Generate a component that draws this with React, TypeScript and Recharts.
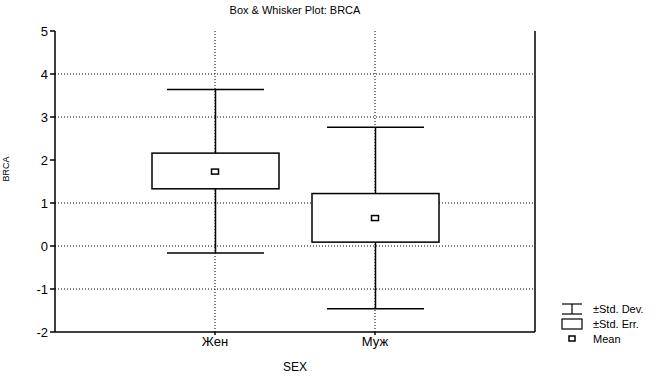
import {
  ComposedChart,
  Bar,
  Scatter,
  XAxis,
  YAxis,
  CartesianGrid,
  ReferenceLine,
} from "recharts";

const categories = ["Жен", "Муж"];
const means = [1.73, 0.65];
const stdErrLow = [1.33, 0.09];
const stdErrHigh = [2.16, 1.22];
const stdDevLow = [-0.16, -1.46];
const stdDevHigh = [3.64, 2.76];
const yTicks = [-2, -1, 0, 1, 2, 3, 4, 5];
const gridValues = [4, 3, 1, 0, -1];

const data = categories.map((sex, i) => ({
  sex,
  mean: means[i],
  se: [stdErrLow[i], stdErrHigh[i]],
  sd: [stdDevLow[i], stdDevHigh[i]],
}));

const FONT = "'Liberation Sans', Arial, sans-serif";

function Whisker(props: any) {
  const { x, y, width, height } = props;
  const cx = x + width / 2;
  return (
    <g stroke="#000" strokeWidth={1.5} fill="none">
      <line x1={cx} y1={y} x2={cx} y2={y + height} />
      <line x1={x} y1={y} x2={x + width} y2={y} />
      <line x1={x} y1={y + height} x2={x + width} y2={y + height} />
    </g>
  );
}

function Box(props: any) {
  const { x, y, width, height } = props;
  return <rect x={x} y={y} width={width} height={height} fill="#fff" stroke="#000" strokeWidth={1.5} />;
}

function MeanMark(props: any) {
  const { cx, cy } = props;
  return <rect x={cx - 3.5} y={cy - 2.5} width={7} height={5} fill="#fff" stroke="#000" strokeWidth={1.5} />;
}

function LegendBox() {
  const row = { display: "flex", alignItems: "center", height: 15 } as const;
  const text = { fontFamily: FONT, fontSize: 11, color: "#000", marginLeft: 10 };
  return (
    <div style={{ position: "absolute", left: 561, top: 301 }}>
      <div style={row}>
        <svg width={22} height={12}>
          <g stroke="#000" strokeWidth={1.2}>
            <line x1={1} y1={1} x2={21} y2={1} />
            <line x1={1} y1={11} x2={21} y2={11} />
            <line x1={11} y1={1} x2={11} y2={11} />
          </g>
        </svg>
        <span style={text}>±Std. Dev.</span>
      </div>
      <div style={row}>
        <svg width={22} height={12}>
          <rect x={1} y={1} width={20} height={10} fill="#fff" stroke="#000" strokeWidth={1.2} />
        </svg>
        <span style={text}>±Std. Err.</span>
      </div>
      <div style={row}>
        <svg width={22} height={12}>
          <rect x={8} y={3} width={6} height={5} fill="#fff" stroke="#000" strokeWidth={1.5} />
        </svg>
        <span style={text}>Mean</span>
      </div>
    </div>
  );
}

export default function App() {
  const pad = { left: 80, right: 80 };
  return (
    <div style={{ position: "absolute", left: 0, top: 0, width: 666, height: 377, background: "#fff" }}>
      <div
        style={{
          position: "absolute",
          left: 55,
          width: 480,
          top: 4,
          textAlign: "center",
          fontFamily: FONT,
          fontSize: 11,
          color: "#000",
        }}
      >
        Box &amp; Whisker Plot: BRCA
      </div>
      <ComposedChart
        width={666}
        height={377}
        data={data}
        margin={{ top: 31, right: 130, bottom: 0, left: 0 }}
      >
        <CartesianGrid
          stroke="#000"
          strokeDasharray="1 2"
          vertical={false}
          horizontalValues={gridValues}
        />
        {categories.map((c) => (
          <ReferenceLine key={c} x={c} stroke="#000" strokeDasharray="1 2" zIndex={-50} />
        ))}
        <XAxis
          dataKey="sex"
          padding={pad}
          height={45}
          stroke="#000"
          strokeWidth={1.5}
          tickSize={3}
          tick={{ fill: "#000", fontSize: 13, fontFamily: FONT }}
          label={{ value: "SEX", position: "insideBottom", offset: 6, fill: "#000", fontSize: 12, fontFamily: FONT }}
        />
        <XAxis xAxisId="box" dataKey="sex" padding={pad} hide />
        <XAxis xAxisId="top" dataKey="sex" padding={pad} orientation="top" height={0} tick={false} stroke="#000" strokeWidth={1.5} tickSize={4} />
        <YAxis
          domain={[-2, 5]}
          ticks={yTicks}
          interval={0}
          width={55}
          stroke="#000"
          strokeWidth={1.5}
          tickSize={5}
          tick={{ fill: "#000", fontSize: 13, fontFamily: FONT }}
          label={{ value: "BRCA", angle: -90, position: "insideLeft", offset: 6, fill: "#000", fontSize: 9, fontFamily: FONT }}
        />
        <YAxis
          yAxisId="right"
          orientation="right"
          domain={[-2, 5]}
          ticks={yTicks}
          width={1}
          tick={false}
          tickLine={false}
          stroke="#000"
          strokeWidth={1.5}
        />
        <Bar dataKey="sd" barSize={97} shape={<Whisker />} isAnimationActive={false} />
        <Bar xAxisId="box" dataKey="se" barSize={127} shape={<Box />} isAnimationActive={false} />
        <Scatter dataKey="mean" shape={<MeanMark />} isAnimationActive={false} />
      </ComposedChart>
      <LegendBox />
    </div>
  );
}
